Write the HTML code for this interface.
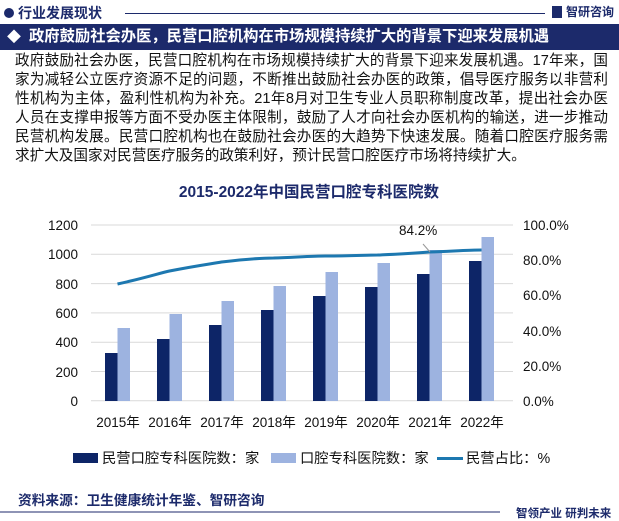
<!DOCTYPE html>
<html><head><meta charset="utf-8"><style>
body{margin:0;width:619px;height:521px;background:#fff;font-family:"Liberation Sans","Noto Sans CJK SC",sans-serif;overflow:hidden;position:relative}
.a{position:absolute;white-space:nowrap}
</style></head><body>
<div class="a" style="left:4px;top:8px;width:10px;height:10px;border-radius:50%;background:#1c2a6b"></div>
<div class="a" style="left:18px;top:4px;font-size:14px;line-height:18px;font-weight:bold;color:#1c2a6b">行业发展现状</div>
<div class="a" style="left:125px;top:13px;width:420px;height:1px;background:#1c2a6b"></div>
<div class="a" style="left:552px;top:6px;width:10px;height:12px;background:#1c2a6b"></div>
<div class="a" style="left:566px;top:5px;font-size:12px;line-height:15px;font-weight:bold;color:#1c2a6b">智研咨询</div>
<div class="a" style="left:0;top:24px;width:619px;height:26px;background:#1c2a6b"></div>
<div class="a" style="left:7px;top:29px;color:#fff;font-size:14px;line-height:16px">◆</div>
<div class="a" style="left:29px;top:28px;color:#fff;font-size:15.3px;line-height:18px;font-weight:bold">政府鼓励社会办医，民营口腔机构在市场规模持续扩大的背景下迎来发展机遇</div>
<div class="a" style="left:15px;top:52px;width:593px;white-space:normal;font-size:14.6px;line-height:19px;color:#111;text-align:justify">政府鼓励社会办医，民营口腔机构在市场规模持续扩大的背景下迎来发展机遇。17年来，国家为减轻公立医疗资源不足的问题，不断推出鼓励社会办医的政策，倡导医疗服务以非营利性机构为主体，盈利性机构为补充。21年8月对卫生专业人员职称制度改革，提出社会办医人员在支撑申报等方面不受办医主体限制，鼓励了人才向社会办医机构的输送，进一步推动民营机构发展。民营口腔机构也在鼓励社会办医的大趋势下快速发展。随着口腔医疗服务需求扩大及国家对民营医疗服务的政策利好，预计民营口腔医疗市场将持续扩大。</div>
<svg class="a" style="left:0;top:0" width="619" height="521">
<text x="309" y="197" text-anchor="middle" font-size="15.5" font-weight="bold" fill="#1c2a6b">2015-2022年中国民营口腔专科医院数</text>
<g stroke="#d9d9d9" stroke-width="1">
<line x1="91" x2="513" y1="225" y2="225"/><line x1="91" x2="513" y1="254.3" y2="254.3"/><line x1="91" x2="513" y1="283.6" y2="283.6"/><line x1="91" x2="513" y1="312.9" y2="312.9"/><line x1="91" x2="513" y1="342.2" y2="342.2"/><line x1="91" x2="513" y1="371.5" y2="371.5"/><line x1="91" x2="513" y1="400.8" y2="400.8"/>
</g>
<g font-size="13.5" fill="#111" text-anchor="end">
<text x="78" y="230">1200</text><text x="78" y="259">1000</text><text x="78" y="289">800</text><text x="78" y="318">600</text><text x="78" y="347">400</text><text x="78" y="377">200</text><text x="78" y="406">0</text>
</g>
<g font-size="13.5" fill="#111">
<text x="523" y="230">100.0%</text><text x="523" y="265">80.0%</text><text x="523" y="300">60.0%</text><text x="523" y="336">40.0%</text><text x="523" y="371">20.0%</text><text x="523" y="406">0.0%</text>
</g>
<g fill="#0d2567">
<rect x="105" y="353" width="12.5" height="48"/><rect x="157" y="339" width="12.5" height="62"/><rect x="209" y="325" width="12.5" height="76"/><rect x="261" y="310" width="12.5" height="91"/><rect x="313" y="296" width="12.5" height="105"/><rect x="365" y="287" width="12.5" height="114"/><rect x="417" y="274" width="12.5" height="127"/><rect x="469" y="261" width="12.5" height="140"/>
</g>
<g fill="#9db3e0">
<rect x="117.5" y="328" width="12.5" height="73"/><rect x="169.5" y="314" width="12.5" height="87"/><rect x="221.5" y="301" width="12.5" height="100"/><rect x="273.5" y="286" width="12.5" height="115"/><rect x="325.5" y="272" width="12.5" height="129"/><rect x="377.5" y="263" width="12.5" height="138"/><rect x="429.5" y="250" width="12.5" height="151"/><rect x="481.5" y="237" width="12.5" height="164"/>
</g>
<path d="M117.5,284 C145,278 160,273 169.5,271 C195,266 210,264 221.5,262 C247,259 262,258 273.5,258 C299,257 314,256 325.5,256 C351,256 366,255 377.5,255 C403,254 418,253 429.5,252 C455,251 470,250 481.5,250" fill="none" stroke="#1d78b0" stroke-width="3"/>
<line x1="423" y1="244" x2="430" y2="252" stroke="#999" stroke-width="1"/>
<text x="399" y="235" font-size="13.5" fill="#111">84.2%</text>
<g font-size="13.5" fill="#111" text-anchor="middle">
<text x="118" y="427">2015年</text><text x="170" y="427">2016年</text><text x="222" y="427">2017年</text><text x="274" y="427">2018年</text><text x="326" y="427">2019年</text><text x="378" y="427">2020年</text><text x="430" y="427">2021年</text><text x="482" y="427">2022年</text>
</g>
<rect x="73" y="453" width="25" height="10" fill="#0d2567"/>
<text x="102" y="463" font-size="14.3" fill="#111">民营口腔专科医院数：家</text>
<rect x="271" y="453" width="25" height="10" fill="#9db3e0"/>
<text x="300" y="463" font-size="14.3" fill="#111">口腔专科医院数：家</text>
<rect x="437" y="457" width="26" height="3" fill="#1d78b0"/>
<text x="466" y="463" font-size="14.3" fill="#111">民营占比：%</text>
<text x="18" y="505" font-size="13.7" font-weight="bold" fill="#1c2a6b">资料来源：卫生健康统计年鉴、智研咨询</text>
<line x1="0" y1="512" x2="500" y2="512" stroke="#1c2a6b" stroke-width="1"/>
<text x="516" y="517" font-size="11.5" font-weight="bold" fill="#1c2a6b">智领产业 研判未来</text>
</svg>
</body></html>
